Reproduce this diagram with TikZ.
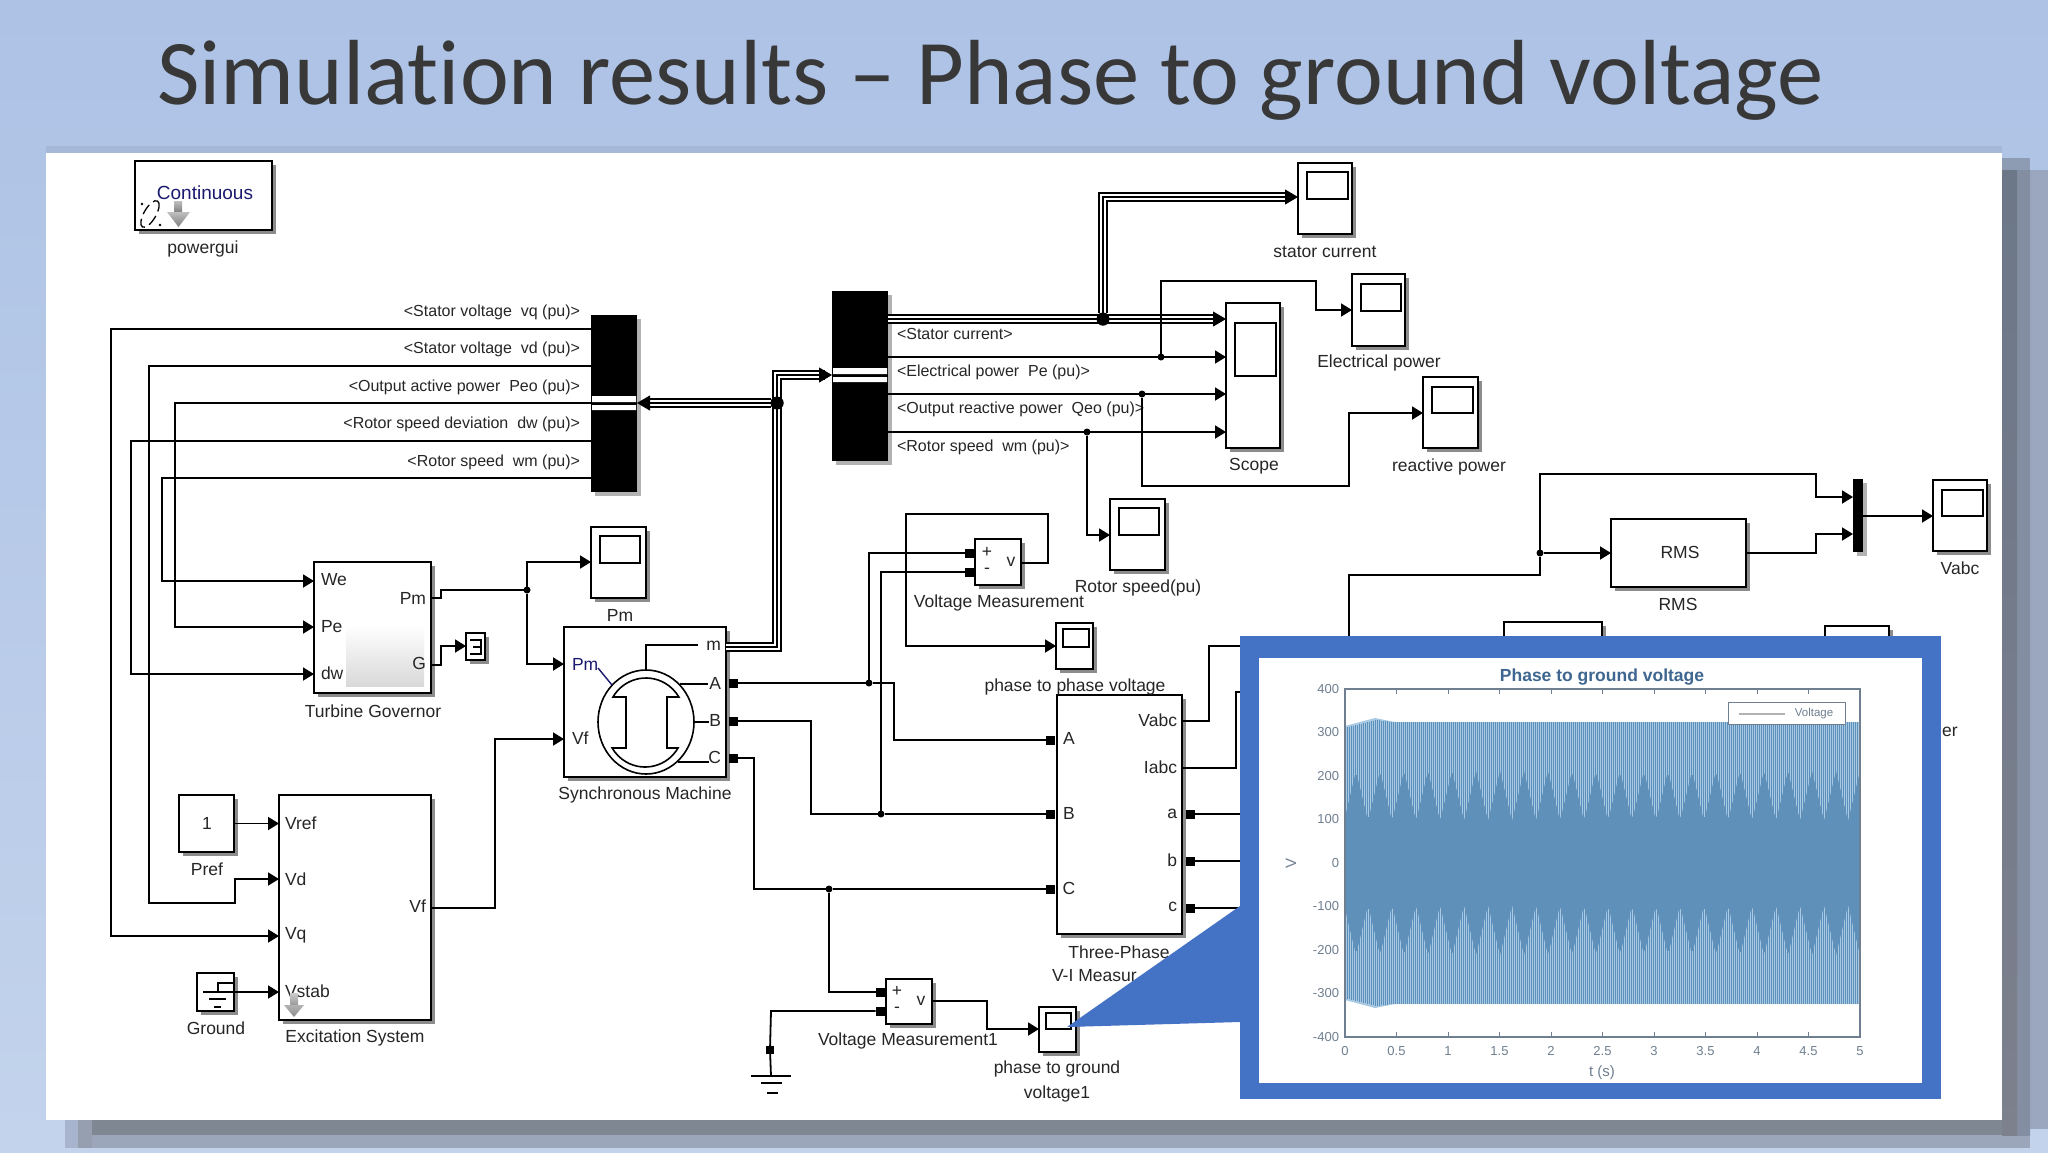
\documentclass[tikz,border=0pt]{standalone}
\usepackage{fontspec}
\setmainfont{Liberation Sans}
\newfontfamily\titlef[Ligatures=NoCommon]{Carlito}
\usetikzlibrary{arrows.meta,shadows,shapes.geometric}
\definecolor{slidebg}{HTML}{ADC2E5}
\definecolor{slidebgb}{HTML}{C3D3EC}
\definecolor{overlayblue}{HTML}{4472C4}
\definecolor{navytext}{HTML}{1A1A6E}
\definecolor{plotgray}{HTML}{6F7F90}
\definecolor{wavecol}{HTML}{5C90BC}
\definecolor{wavedark}{HTML}{5F90BA}
\definecolor{wavelight}{HTML}{A9C9E2}
\definecolor{plottitle}{HTML}{3F6690}
\definecolor{shadea}{HTML}{6C7788}
\definecolor{shadeab}{HTML}{7D808D}
\definecolor{shadeb}{HTML}{838EA2}
\definecolor{shadec}{HTML}{9BA7BF}
\definecolor{shadet}{HTML}{8D9BB3}
\definecolor{shadebot}{HTML}{7F8793}
\definecolor{shadebotb}{HTML}{9CA6BA}
\definecolor{shadefade}{HTML}{A8B3CD}
\definecolor{shadefadeb}{HTML}{969FB0}
\tikzset{
  sblock/.style={draw=black,line width=1.8pt,fill=white,inner sep=0pt,outer sep=0pt,rectangle,
     drop shadow={shadow xshift=3.5pt,shadow yshift=-3.5pt,fill=black,opacity=.45}},
  screenbox/.style={draw=black,line width=1.6pt,fill=white,inner sep=0pt,outer sep=0pt,rectangle},
  barbox/.style={fill=black,inner sep=0pt,outer sep=0pt,rectangle,
     drop shadow={shadow xshift=3.5pt,shadow yshift=-3.5pt,fill=black,opacity=.3}},
  lbl/.style={inner sep=0pt,outer sep=0pt,font=\fontsize{17.5}{19}\selectfont,text=black!85},
  llbl/.style={lbl,anchor=west},
  rlbl/.style={lbl,anchor=east},
  sigl/.style={inner sep=0pt,outer sep=0pt,font=\fontsize{16}{18}\selectfont,text=black!85},
  wire/.style={draw=black,line width=1.8pt,line join=miter},
  arr/.style={wire,-{Triangle[length=11pt,width=13pt]}},
  busarr/.style={wire,line width=1pt,-{Triangle[length=13pt,width=15pt]}},
  bara/.style={draw=black,line width=10pt,line join=miter},
  barb/.style={draw=white,line width=6.4pt,line join=miter},
  barc/.style={draw=black,line width=2.2pt,line join=miter},
  portbox/.style={fill=black,inner sep=0pt,outer sep=0pt,minimum size=9pt,rectangle},
  junc/.style={fill=black,circle,inner sep=0pt,outer sep=0pt,minimum size=7pt},
  bigjunc/.style={fill=black,circle,inner sep=0pt,outer sep=0pt,minimum size=13pt},
  tk/.style={inner sep=0pt,outer sep=0pt,font=\fontsize{13}{14}\selectfont,text=plotgray},
}
\newcommand{\mkblock}[6][]{%
  \pgfmathsetmacro\bw{#5-#3}\pgfmathsetmacro\bh{#6-#4}%
  \pgfmathsetmacro\cx{(#3+#5)/2}\pgfmathsetmacro\cy{(#4+#6)/2}%
  \node[sblock,minimum width=\bw pt,minimum height=\bh pt,#1] (#2) at (\cx,\cy) {};}
\newcommand{\mkscreen}[5]{%
  \pgfmathsetmacro\bw{#4-#2}\pgfmathsetmacro\bh{#5-#3}%
  \pgfmathsetmacro\cx{(#2+#4)/2}\pgfmathsetmacro\cy{(#3+#5)/2}%
  \node[screenbox,minimum width=\bw pt,minimum height=\bh pt] (#1) at (\cx,\cy) {};}
\newcommand{\mkbar}[5]{%
  \pgfmathsetmacro\bw{#4-#2}\pgfmathsetmacro\bh{#5-#3}%
  \pgfmathsetmacro\cx{(#2+#4)/2}\pgfmathsetmacro\cy{(#3+#5)/2}%
  \node[barbox,minimum width=\bw pt,minimum height=\bh pt] (#1) at (\cx,\cy) {};}
\newcommand{\busline}[1]{\draw[bara] #1;\draw[barb] #1;\draw[barc] #1;}
\begin{document}
\begin{tikzpicture}[x=1pt,y=-1pt]
\useasboundingbox (0,0) rectangle (2048,1152);
% slide
\shade[top color=slidebg,bottom color=slidebgb] (0,0) rectangle (2048,1152);
\fill[black,opacity=.06] (46,146) rectangle (2002,153);
% bottom shadow
\fill[shadefade] (65,1120) rectangle (78,1148);
\fill[shadefadeb] (78,1120) rectangle (92,1148);
\fill[shadebot] (92,1120) rectangle (2002,1135);
\fill[shadebotb] (92,1135) rectangle (2030,1148);
% right shadow
\fill[shadet] (2002,158) rectangle (2030,170);
\shade[top color=shadec,bottom color=shadec] (2030,170) rectangle (2048,1128);
\shade[top color=shadeb,bottom color=shadeb] (2017,170) rectangle (2030,1135);
\shade[top color=shadea,bottom color=shadeab] (2002,170) rectangle (2017,1135);
\fill[white] (46,153) rectangle (2002,1120);
\node[anchor=base west,inner sep=0pt,font=\titlef\fontsize{92.5}{100}\selectfont,text=black!78] (title) at (157,104) {Simulation results – Phase to ground voltage};

% powergui
\mkblock{pg}{135}{161}{272}{230}
\node[lbl,text=navytext,font=\fontsize{19}{20}\selectfont] (pgtext) at (205,193) {Continuous};
\node[lbl] (pglabel) at (203,249) {powergui};
\draw[black,line width=1.3pt,dash pattern=on 11pt off 5pt,rotate around={60:(150,214)}] (150,214) ellipse (15 and 6);
\fill[black] (142,204) circle (1.3) (160,225) circle (1.3);
\shade[top color=black!25,bottom color=black!50] (174,201) rectangle (182,212);
\shade[top color=black!25,bottom color=black!50] (167,212) -- (190,212) -- (178.5,227) -- cycle;

% bars
\mkbar{lbar}{591}{315}{637}{492}
\fill[white] (592,396) rectangle (636,402) (592,405) rectangle (636,410);
\mkbar{rbar}{832}{291}{888}{461}
\fill[white] (833,368) rectangle (887,374) (833,377) rectangle (887,382);
\foreach \n/\y/\t in {l1/312/{<Stator voltage~ vq (pu)>},l2/349/{<Stator voltage~ vd (pu)>},l3/387/{<Output active power~ Peo (pu)>},l4/424/{<Rotor speed deviation~ dw (pu)>},l5/462/{<Rotor speed~ wm (pu)>}}
  \node[sigl,anchor=east] (\n) at (580,\y) {\t};
\foreach \n/\y/\t in {r1/334/{<Stator current>},r2/372/{<Electrical power~ Pe (pu)>},r3/409/{<Output reactive power~ Qeo (pu)>},r4/447/{<Rotor speed~ wm (pu)>}}
  \node[sigl,anchor=west] (\n) at (897,\y) {\t};

% Turbine Governor
\mkblock{tg}{314}{562}{431}{693}
\shade[top color=white,bottom color=black!15] (346,625) rectangle (424,686);
\node[llbl] (tgwe) at (321,580) {We};
\node[llbl] (tgpe) at (321,627) {Pe};
\node[llbl] (tgdw) at (321,673) {dw};
\node[rlbl] (tgpm) at (426,598) {Pm};
\node[rlbl] (tgg) at (426,663) {G};
\node[lbl] (tglabel) at (373,711) {Turbine Governor};

% Excitation
\mkblock{ex}{279}{795}{431}{1020}
\node[llbl] (exvref) at (285,823) {Vref};
\node[llbl] (exvd) at (285,879) {Vd};
\node[llbl] (exvq) at (285,935) {Vq};
\node[llbl] (exvs) at (285,991) {Vstab};
\node[rlbl] (exvf) at (426,906) {Vf};
\node[lbl] (exlabel) at (355,1038) {Excitation System};
\shade[top color=black!20,bottom color=black!40] (290,993) rectangle (298,1005);
\shade[top color=black!30,bottom color=black!45] (284,1005) -- (304,1005) -- (294,1017) -- cycle;

% Pref, Ground
\mkblock{pref}{179}{795}{234}{852}
\node[lbl] (prefone) at (207,823) {1};
\node[lbl] (preflabel) at (207,869) {Pref};
\mkblock{gnd}{197}{973}{234}{1011}
\draw[wire,line width=1.3pt] (203,992) -- (234,992) (218,992) -- (218,983) -- (234,983);
\draw[wire,line width=1.3pt] (209,999) -- (226,999) (214,1007) -- (221,1007);
\node[lbl] (gndlabel) at (216,1028) {Ground};

% terminator
\mkblock{term}{466}{633}{485}{660}
\draw[wire,line width=1.3pt] (470,640) -- (481,640) -- (481,654) -- (470,654) (473,647) -- (481,647);

% Pm scope
\mkblock{spm}{591}{527}{646}{598}
\mkscreen{spmi}{600}{536}{640}{563}
\node[lbl] (spml) at (620,615) {Pm};

% Machine
\mkblock{sm}{564}{627}{726}{777}
\draw[black,line width=1.6pt] (646,722) ellipse (48 and 52);
\draw[black,line width=1.6pt] (613,697) arc[start angle=-150,end angle=-30,x radius=38,y radius=38] -- (667,697) -- (667,748) -- (678,748) arc[start angle=30,end angle=150,x radius=38,y radius=38] -- (626,748) -- (626,697) -- cycle;
\draw[wire,line width=1.6pt] (646,670) -- (646,645) -- (698,645);
\draw[wire,line width=1.6pt] (680,684) -- (708,684) (695,722) -- (709,722) (678,762) -- (709,762);
\draw[navytext,line width=1.4pt] (598,668) -- (612,685);
\node[llbl,text=navytext] (smpm) at (572,664) {Pm};
\node[llbl] (smvf) at (572,738) {Vf};
\node[rlbl] (smm) at (721,646) {m};
\node[rlbl] (sma) at (721,683) {A};
\node[rlbl] (smb) at (721,720) {B};
\node[rlbl] (smc) at (721,757) {C};
\node[lbl] (smlabel) at (645,795) {Synchronous Machine};
\node[portbox] (pa) at (733,683) {};
\node[portbox] (pb) at (733,721) {};
\node[portbox] (pc) at (733,758) {};

% Three-phase
\mkblock{tp}{1057}{695}{1182}{934}
\node[lbl] (tpA) at (1069,738) {A};
\node[lbl] (tpB) at (1069,813) {B};
\node[lbl] (tpC) at (1069,888) {C};
\node[rlbl] (tpv) at (1177,720) {Vabc};
\node[rlbl] (tpi) at (1177,767) {Iabc};
\node[rlbl] (tpa) at (1177,814) {a};
\node[rlbl] (tpb) at (1177,860) {b};
\node[rlbl] (tpc) at (1177,907) {c};
\node[lbl] (tpl1) at (1119,952) {Three-Phase};
\node[llbl] (tpl2) at (1052,976) {V-I Measur};
\node[portbox] (qa) at (1050,740) {};
\node[portbox] (qb) at (1050,814) {};
\node[portbox] (qc) at (1050,889) {};
\node[portbox] (ra) at (1190,814) {};
\node[portbox] (rb) at (1190,861) {};
\node[portbox] (rc) at (1190,908) {};

% Voltage measurements
\mkblock{vm}{975}{539}{1021}{585}
\node[portbox] (vp) at (969,553) {};
\node[portbox] (vn) at (969,572) {};
\node[lbl] (vmp) at (987,552) {+};
\node[lbl] (vmn) at (987,571) {-};
\node[lbl] (vmv) at (1011,562) {v};
\node[lbl] (vml) at (999,603) {Voltage Measurement};
\mkblock{vma}{886}{979}{932}{1024}
\node[portbox] (vap) at (880,992) {};
\node[portbox] (van) at (880,1011) {};
\node[lbl] (vamp) at (897,991) {+};
\node[lbl] (vamn) at (897,1010) {-};
\node[lbl] (vamv) at (921,1001) {v};
\node[lbl] (vaml) at (908,1041) {Voltage Measurement1};

% scopes
\mkblock{ssc}{1226}{303}{1280}{448}
\mkscreen{ssci}{1235}{323}{1276}{376}
\node[lbl] (sscl) at (1254,466) {Scope};
\mkblock{sst}{1298}{163}{1352}{234}
\mkscreen{ssti}{1307}{172}{1348}{199}
\node[lbl] (sstl) at (1325,252) {stator current};
\mkblock{sel}{1352}{274}{1405}{346}
\mkscreen{seli}{1361}{284}{1401}{311}
\node[lbl] (sell) at (1379,363) {Electrical power};
\mkblock{sre}{1423}{377}{1478}{448}
\mkscreen{srei}{1432}{387}{1473}{413}
\node[lbl] (srel) at (1449,467) {reactive power};
\mkblock{srs}{1110}{499}{1165}{570}
\mkscreen{srsi}{1119}{508}{1159}{535}
\node[lbl] (srsl) at (1138,588) {Rotor speed(pu)};
\mkblock{sva}{1933}{480}{1987}{551}
\mkscreen{svai}{1942}{490}{1983}{516}
\node[lbl] (sval) at (1960,568) {Vabc};
\mkblock{spp}{1056}{623}{1093}{669}
\mkscreen{sppi}{1063}{629}{1089}{647}
\node[lbl] (sppl) at (1075,687) {phase to phase voltage};
\mkblock{spg}{1039}{1007}{1076}{1052}
\mkscreen{spgi}{1046}{1013}{1071}{1029}
\node[lbl] (spgl1) at (1057,1069) {phase to ground};
\node[lbl] (spgl2) at (1057,1094) {voltage1};

% mux, RMS, hidden blocks
\mkbar{mux}{1853}{479}{1863}{552}
\mkblock{rms}{1611}{519}{1746}{587}
\node[lbl] (rmst) at (1680,552) {RMS};
\node[lbl] (rmsl) at (1678,604) {RMS};
\mkblock{hid1}{1504}{622}{1602}{700}
\mkblock{hid2}{1825}{626}{1889}{700}

% junction nodes
\node[junc] (ja) at (869,683) {};
\node[junc] (jb) at (881,814) {};
\node[junc] (jc) at (829,889) {};
\node[junc] (jpm) at (527,590) {};
\node[junc] (jel) at (1161,357) {};
\node[junc] (jre) at (1142,394) {};
\node[junc] (jrs) at (1087,432) {};
\node[junc] (jrm) at (1540,553) {};
\node[bigjunc] (jbus) at (777,403) {};
\node[bigjunc] (jst) at (1103,319) {};
\coordinate (ovtop) at (1349,640);
\coordinate (ova) at (1245,814);
\coordinate (ovb) at (1245,861);
\coordinate (ovc) at (1245,908);
\coordinate (ovv) at (1245,646);
\coordinate (ovi) at (1245,692);
\node[portbox,minimum size=8pt] (gp) at (770,1050) {};
\coordinate (gb) at (771,1076);

% signal wires, left
\draw[arr] (lbar.west |- 0,329) -- (111,329) -- (111,936) -- (ex.west |- 0,936);
\draw[arr] (lbar.west |- 0,366) -- (149,366) -- (149,903) -- (235,903) -- (235,879) -- (ex.west |- 0,879);
\draw[arr] (lbar.west |- 0,403) -- (175,403) -- (175,627) -- (tg.west |- 0,627);
\draw[arr] (lbar.west |- 0,441) -- (131,441) -- (131,674) -- (tg.west |- 0,674);
\draw[arr] (lbar.west |- 0,478) -- (162,478) -- (162,581) -- (tg.west |- 0,581);
\draw[arr] (tg.east |- 0,598) -- (441,598) -- (441,590) -- (jpm) -- (527,562) -- (spm.west |- 0,562);
\draw[arr] (jpm) -- (527,664) -- (sm.west |- 0,664);
\draw[arr] (tg.east |- 0,665) -- (441,665) -- (441,646) -- (term.west |- 0,646);
\draw[arr] (pref.east) -- (ex.west |- pref.east);
\draw[arr] (gnd.east |- 0,992) -- (ex.west |- 0,992);
\draw[arr] (ex.east |- 0,908) -- (495,908) -- (495,739) -- (sm.west |- 0,739);

% buses
\busline{(jbus) -- (646,403)}
\draw[busarr] (660,403) -- (lbar.east |- 0,403);
\busline{(726,647) -- (777,647) -- (777,375) -- (825,375)}
\draw[busarr] (815,375) -- (rbar.west |- 0,375);
\busline{(888,319) -- (1218,319)}
\draw[busarr] (1208,319) -- (ssc.west |- 0,319);
\busline{(jst) -- (1103,197) -- (1288,197)}
\draw[busarr] (1280,197) -- (sst.west |- 0,197);
\node[bigjunc] (jbus2) at (jbus) {};
\node[bigjunc] (jst2) at (jst) {};

% signal wires, right
\draw[arr] (rbar.east |- 0,357) -- (ssc.west |- 0,357);
\draw[arr] (rbar.east |- 0,394) -- (ssc.west |- 0,394);
\draw[arr] (rbar.east |- 0,432) -- (ssc.west |- 0,432);
\draw[arr] (jel) -- (1161,281) -- (1316,281) -- (1316,310) -- (sel.west |- 0,310);
\draw[arr] (jre) -- (1142,486) -- (1349,486) -- (1349,413) -- (sre.west |- 0,413);
\draw[arr] (jrs) -- (1087,535) -- (srs.west |- 0,535);
\draw[wire] (ovtop) -- (1349,575) -- (1540,575) -- (jrm);
\draw[arr] (jrm) -- (rms.west |- jrm);
\draw[arr] (jrm) -- (1540,474) -- (1816,474) -- (1816,497) -- (mux.west |- 0,497);
\draw[arr] (rms.east |- 0,553) -- (1816,553) -- (1816,534) -- (mux.west |- 0,534);
\draw[arr] (mux.east |- 0,516) -- (sva.west |- 0,516);

% electrical wires
\draw[wire] (pa) -- (ja) -- (894,683) -- (894,740) -- (qa);
\draw[wire] (pb) -- (811,721) -- (811,814) -- (jb) -- (qb);
\draw[wire] (pc) -- (754,758) -- (754,889) -- (jc) -- (qc);
\draw[wire] (ja) -- (869,553) -- (vp);
\draw[wire] (jb) -- (881,572) -- (vn);
\draw[arr] (vm.east |- 0,563) -- (1048,563) -- (1048,514) -- (906,514) -- (906,646) -- (spp.west |- 0,646);
\draw[wire] (jc) -- (829,992) -- (vap);
\draw[wire] (van) -- (771,1011) -- (gp);
\draw[wire] (gp) -- (gb);
\draw[wire] (751,1076) -- (791,1076) (761,1083) -- (782,1083) (767,1093) -- (778,1093);
\draw[arr] (vma.east |- 0,1001) -- (987,1001) -- (987,1029) -- (spg.west |- 0,1029);
\draw[wire] (ra) -- (ova);
\draw[wire] (rb) -- (ovb);
\draw[wire] (rc) -- (ovc);
\draw[wire] (tp.east |- 0,721) -- (1209,721) -- (1209,646) -- (ovv);
\draw[wire] (tp.east |- 0,768) -- (1236,768) -- (1236,692) -- (ovi);

% callout
\fill[overlayblue] (1067,1027) -- (1240,906) -- (1240,1022) -- cycle;
\fill[overlayblue] (1240,636) rectangle (1941,1099);
\fill[white] (1259,658) rectangle (1922,1083);
\node[lbl,anchor=west] (erfrag) at (1942,732) {er};
\node[inner sep=0pt,font=\bfseries\fontsize{17.5}{18}\selectfont,text=plottitle] (pt) at (1602,677) {Phase to ground voltage};

% plot
\begin{scope}
\clip (1345,689) rectangle (1860,1037);
\fill[wavelight] (1345,726) -- (1375,718) -- (1395,722) -- (1860,722) -- (1860,1004) -- (1395,1004) -- (1375,1008) -- (1345,1000) -- cycle;
\foreach \i in {0,...,257}{
  \pgfmathsetmacro\xx{1345.5+\i*2}
  \pgfmathsetmacro\amp{\i<15 ? 135+8*\i/15 : (\i<22 ? 143-1.6*(\i-15)/7 : 141.4)}
  \pgfmathsetmacro\ya{863-\amp}\pgfmathsetmacro\yb{863+\amp}
  \draw[wavecol,line width=1pt] (\xx,\ya) -- (\xx,\yb);
}
\fill[wavedark] plot[domain=1345:1860,samples=260] (\x,{863-(42+50*abs(asin(sin(\x*7.5)))/90)}) -- (1860,863) -- (1345,863) -- cycle;
\fill[wavedark] plot[domain=1345:1860,samples=260] (\x,{863+(42+50*abs(asin(sin(\x*7.5)))/90)}) -- (1860,863) -- (1345,863) -- cycle;
\end{scope}
\draw[plotgray,line width=1.2pt] (1345,689) rectangle (1860,1037);
\foreach \i in {1,...,9}{
  \pgfmathsetmacro\xx{1345+\i*51.5}
  \draw[plotgray,line width=1pt] (\xx,689) -- (\xx,694) (\xx,1037) -- (\xx,1032);
}
\foreach \v in {400,300,200,100,0,-100,-200,-300,-400}{
  \pgfmathsetmacro\yy{863-\v*0.435}
  \node[tk,anchor=east] (yt\v) at (1339,\yy) {\v};
}
\foreach \t/\n in {0/0,0.5/1,1/2,1.5/3,2/4,2.5/5,3/6,3.5/7,4/8,4.5/9,5/10}{
  \pgfmathsetmacro\xx{1345+\n*51.5}
  \node[tk] (xt\n) at (\xx,1051) {\t};
}
\node[tk,font=\fontsize{15}{16}\selectfont] (xlab) at (1602,1073) {t (s)};
\node[tk,rotate=90,font=\fontsize{15}{16}\selectfont] (ylab) at (1291,863) {V};
\node[draw=plotgray,fill=white,line width=1pt,minimum width=117pt,minimum height=22pt,inner sep=0pt] (leg) at (1786.5,713) {};
\draw[black!30,line width=2pt] (1739,714) -- (1785,714);
\node[tk,font=\fontsize{11.5}{12}\selectfont] (legt) at (1814,714) {Voltage};
\end{tikzpicture}
\end{document}
